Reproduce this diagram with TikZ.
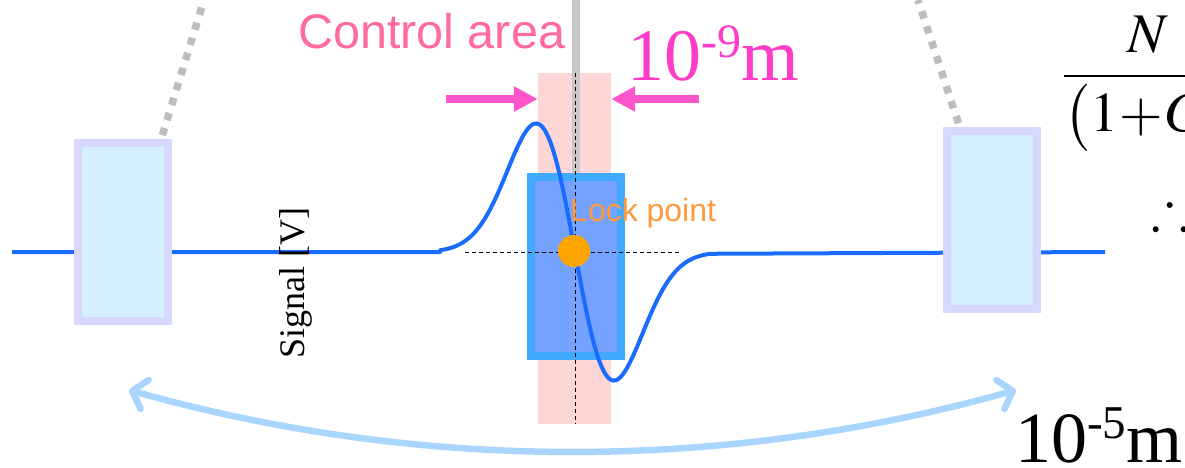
\documentclass[tikz,border=0pt]{standalone}
\usepackage{amsmath}
\usepackage{mathptmx}
\usepackage{amssymb}
\usepackage{fontspec}
\setmainfont{Liberation Serif}
\setsansfont{Liberation Sans}
\usetikzlibrary{arrows.meta,positioning,calc}

\definecolor{sigblue}{HTML}{1A6CFF}
\definecolor{servofill}{HTML}{76A2FF}
\definecolor{servoedge}{HTML}{40AAFF}
\definecolor{ctrlpink}{HTML}{FDD6D6}
\definecolor{ctrltext}{HTML}{FF6B9B}
\definecolor{arrowpink}{HTML}{FF55CC}
\definecolor{scalepink}{HTML}{FF3CC8}
\definecolor{mirrorfill}{HTML}{D5EFFF}
\definecolor{mirroredge}{HTML}{D8D8FF}
\definecolor{rodgray}{HTML}{C8C8C8}
\definecolor{dotgray}{HTML}{BDBDBD}
\definecolor{lockorange}{HTML}{FFA500}
\definecolor{locktext}{HTML}{FF9A3C}
\definecolor{spanblue}{HTML}{AAD5FF}

\begin{document}
\begin{tikzpicture}[
    x=1pt, y=-1pt,
    mirror/.style={draw=mirroredge, fill=mirrorfill, line width=8pt, minimum width=90pt, minimum height=178pt, inner sep=0pt},
    servo/.style={draw=servoedge, fill=servofill, line width=8pt, minimum width=90pt, minimum height=179pt, inner sep=0pt},
    band/.style={fill=ctrlpink, minimum width=73pt, minimum height=351pt, inner sep=0pt},
    lockdot/.style={circle, fill=lockorange, minimum size=32pt, inner sep=0pt},
    signal/.style={draw=sigblue, line width=4pt, line join=round},
    guide/.style={draw=black, line width=1pt, dash pattern=on 4pt off 3pt},
    tether/.style={draw=dotgray, line width=7.5pt, dash pattern=on 7.5pt off 8.25pt, shorten <=4pt},
    squeeze/.style={draw=arrowpink, line width=8pt, -{Triangle[length=24pt, width=24pt]}},
    span/.style={draw=spanblue, line width=6.5pt, {Straight Barb[length=13pt, width=30pt, round]}-{Straight Barb[length=13pt, width=30pt, round]}},
    lbl/.style={anchor=base west, inner sep=0pt}
]
\path[use as bounding box, clip] (0,0) rectangle (1185,467);

% control band and rod
\node[band] (ctrl) at (574.5,248.5) {};
\coordinate (rodtop) at (576,0);
\node[servo] (servo) at (576,266.5) {};
\draw[rodgray, line width=8pt] (rodtop) -- (servo.north);

% cross hairs
\coordinate (hl) at (465,252);
\coordinate (hr) at (680,252);
\draw[guide] (575,0 |- ctrl.north) -- (575,0 |- ctrl.south);
\draw[guide] (hl) -- (hr);

% error signal
\coordinate (sigl) at (12,252);
\coordinate (sigr) at (1105,252);
\draw[signal] (sigl) -- (440,252)
  -- plot[domain=-135:135, samples=121] ({575+\x},{252+5.45*\x*exp(-(\x/55)*(\x/55))})
  -- (sigr);

% mirrors
\coordinate (lt) at (204,0);
\coordinate (rt) at (918,0);
\node[mirror] (lbox) at (123,232) {};
\node[mirror] (rbox) at (992,220) {};
\draw[tether] ($(lbox.north west)!0.89!(lbox.north east)$) -- (lt);
\draw[tether] ($(rbox.north west)!0.17!(rbox.north east)$) -- (rt);

\node[lockdot] (lock) at (574,251) {};

% labels
\node[lbl, text=ctrltext, font=\sffamily\fontsize{48.5}{48.5}\selectfont] (ctrl-lbl) at (298,48) {Control area};
\node[lbl, text=locktext, font=\sffamily\fontsize{32}{32}\selectfont] (lock-lbl) at (570,221) {Lock point};
\node[lbl, text=scalepink, font=\fontsize{74}{74}\selectfont] (fine-lbl) at (627,80) {10\raisebox{23pt}{\fontsize{48}{48}\selectfont -9}m};
\node[lbl, font=\fontsize{72}{72}\selectfont] (coarse-lbl) at (1015,462) {10\raisebox{24pt}{\fontsize{47}{47}\selectfont -5}m};
\node[rotate=90, inner sep=0pt, font=\fontsize{36}{36}\selectfont] (axis-lbl) at (296,283) {Signal [V]};
\node[lbl, font=\fontsize{56}{56}\selectfont] (gain-eq) at (1063,90) {$\medmuskip=0.5mu\dfrac{N}{\bigl(1+G\bigr)}$};
\node[lbl, font=\fontsize{56}{56}\selectfont] (ergo) at (1151,228) {$\therefore$};

% arrows
\coordinate (pl) at (446,99);
\coordinate (pr) at (699,99);
\draw[squeeze] (pl) -- (pl -| ctrl.west);
\draw[squeeze] (pr) -- (pr -| ctrl.east);

\coordinate (span-l) at (129,390);
\coordinate (span-r) at (1016,390);
\draw[span] (span-l) .. controls (420,472) and (725,472) .. (span-r);
\end{tikzpicture}
\end{document}
